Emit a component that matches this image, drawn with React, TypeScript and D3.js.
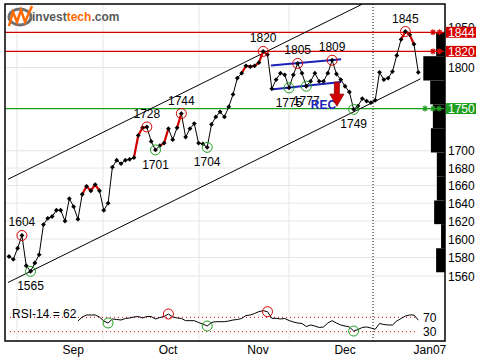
import React from 'react';
import * as d3 from 'd3';

// ---- data ----
const closes = [
  1581, 1578, 1590, 1604, 1571, 1565, 1574, 1583, 1616, 1623,
  1625, 1632, 1632, 1620, 1645, 1636, 1622, 1650, 1659, 1654,
  1661, 1654, 1632, 1640, 1681, 1689, 1685, 1689, 1690, 1692,
  1718, 1727, 1728, 1711, 1701, 1706, 1709, 1726, 1713, 1727,
  1744, 1716, 1726, 1732, 1709, 1708, 1704, 1731, 1740, 1746,
  1740, 1752, 1767, 1787, 1793, 1802, 1801, 1802, 1806, 1820,
  1816, 1774, 1785, 1793, 1791, 1775, 1791, 1805, 1793, 1777,
  1783, 1793, 1783, 1783, 1793, 1809, 1792, 1785, 1777, 1770,
  1749, 1753, 1762, 1759, 1757, 1760, 1794, 1785, 1787, 1795,
  1815, 1835, 1845, 1841, 1829, 1794,
];
const redSegments = [[17, 21], [29, 32], [35, 37], [39, 40], [54, 60], [91, 94]];
const topPoints = [3, 32, 40, 59, 67, 75, 92];
const bottomPoints = [5, 34, 46, 65, 69, 80];

const rsiStart = 16;
const rsiValues = [
  59.7, 70.8, 76.4, 76.4, 76.4, 70.8, 59.7, 54.2, 65.3, 63.9,
  62.5, 66.7, 68.1, 70.8, 72.2, 68.1, 72.2, 72.2, 65.3, 69.4,
  72.2, 79.2, 70.8, 68.1, 66.7, 60.6, 60.6, 60.6, 55.6, 51.4,
  45.8, 55.6, 57.8, 57.8, 57.8, 59.7, 62.5, 63.9, 66.7, 75,
  76.4, 80.6, 85.6, 88.3, 85.6, 67.2, 67.2, 65.3, 66.7, 61.1,
  56.9, 54.2, 52.8, 44.4, 48.6, 45.8, 41.7, 43.1, 54.2, 60.6,
  54.2, 48.6, 45.8, 43.1, 31.9, 36.1, 41.7, 43.1, 40.3, 36.7,
  52.8, 50, 48.6, 48.6, 59.7, 66.7, 73.6, 76.4, 76.4, 62,
];
const rsiRedCircles = [37, 60];
const rsiGreenCircles = [23, 46, 80];

const yTicks = [1560, 1580, 1600, 1620, 1640, 1660, 1680, 1700, 1800, 1850];
const gridTicks = [1560, 1580, 1600, 1620, 1640, 1660, 1680, 1700, 1800];
const resistanceLevels = [1844, 1820];
const supportLevels = [1750];

const monthBoundaries = [1.85, 21.8, 44.1, 65];
const yearBoundary = 84.5;
const monthLabels = ['Sep', 'Oct', 'Nov', 'Dec', 'Jan07'];
const monthLabelPos = [14.9, 36.9, 57.8, 78, 97.7];

const upperChannel = [[-0.25, 1667], [82, 1880]];
const lowerChannel = [[-0.25, 1553], [95.5, 1786]];
const rectTop = [[60.8, 1802.5], [77.1, 1810.2]];
const rectBottom = [[60.8, 1773], [77.1, 1782.2]];
const sellSignal = [76.1, 1782];

const volumeBinEdges = [1844, 1814, 1784, 1755, 1726.5, 1698, 1670.5, 1643, 1616.5, 1590, 1564];
const volumeAtPrice = [9, 22, 15, 12.3, 14.3, 8.3, 8.3, 11, 4, 9];

const FONT = '"Liberation Sans", Arial, sans-serif';

export default function App() {
  const W = 480, H = 360;
  const L = 5, T = 4, R = 445, B = 341;
  const x = d3.scaleLinear().domain([0, 95]).range([9, 418.3]);
  const y = d3.scaleLog().domain([1560, 1844]).range([276, 32.3]);
  const ry = d3.scaleLinear().domain([30, 70]).range([331.7, 317.3]);
  const vx = d3.scaleLinear().domain([0, 22]).range([0, 21.7]);

  const line = d3.line<number>().x((_, i) => x(i)).y((d) => y(d));
  const pricePath = line(closes) || '';
  const rsiLine = d3.line<number>().x((_, i) => x(i + rsiStart)).y((d) => ry(d));
  const rsiPath = rsiLine(rsiValues) || '';

  const red = '#d40000';
  const green = '#1e9e1e';
  const blue = '#1a22b8';

  const segLine = (pts: number[][]) => {
    const [a, b] = pts;
    return { x1: x(a[0]), y1: y(a[1]), x2: x(b[0]), y2: y(b[1]) };
  };

  const star = (cx: number, cy: number, r = 3) =>
    `M${cx - r},${cy}L${cx + r},${cy}M${cx},${cy - r}L${cx},${cy + r}` +
    `M${cx - r * 0.7},${cy - r * 0.7}L${cx + r * 0.7},${cy + r * 0.7}` +
    `M${cx - r * 0.7},${cy + r * 0.7}L${cx + r * 0.7},${cy - r * 0.7}`;

  const sx = x(sellSignal[0]);
  const sy = y(sellSignal[1]);

  return (
    <div style={{ position: 'fixed', left: 0, top: 0 }}>
      <svg width={W} height={H} style={{ display: 'block', background: '#fff', fontFamily: FONT }}>
        <rect x={0} y={0} width={W} height={H} fill="#fff" />
        {/* grid */}
        {gridTicks.map((t) => (
          <line key={'g' + t} x1={L} x2={R} y1={y(t)} y2={y(t)} stroke="#e6e6e6" />
        ))}
        {monthBoundaries.map((m) => (
          <line key={'m' + m} x1={x(m)} x2={x(m)} y1={T} y2={B} stroke="#e6e6e6" />
        ))}
        <line x1={x(yearBoundary)} x2={x(yearBoundary)} y1={T} y2={B} stroke="#000" strokeDasharray="1,2" />

        {/* volume at price */}
        {volumeAtPrice.map((v, i) => {
          const y0 = y(volumeBinEdges[i]);
          const y1 = y(volumeBinEdges[i + 1]);
          return <rect key={'v' + i} x={R - vx(v)} y={y0} width={vx(v)} height={y1 - y0} fill="#000" />;
        })}

        {/* horizontal levels */}
        {resistanceLevels.map((lv) => (
          <g key={'r' + lv}>
            <line x1={L} x2={R} y1={y(lv)} y2={y(lv)} stroke={red} strokeWidth={1.2} />
            <path d={star(433, y(lv)) + star(439.5, y(lv))} stroke={red} strokeWidth={1.2} />
          </g>
        ))}
        {supportLevels.map((lv) => (
          <g key={'s' + lv}>
            <line x1={L} x2={R} y1={y(lv)} y2={y(lv)} stroke={green} strokeWidth={1.2} />
            <path d={star(425, y(lv)) + star(433, y(lv)) + star(439, y(lv))} stroke={green} strokeWidth={1.2} />
          </g>
        ))}

        {/* channels */}
        <line {...segLine(upperChannel)} stroke="#000" strokeWidth={1} />
        <line {...segLine(lowerChannel)} stroke="#000" strokeWidth={1} />
        <line {...segLine(rectTop)} stroke={blue} strokeWidth={2} />
        <line {...segLine(rectBottom)} stroke={blue} strokeWidth={2} />

        {/* price */}
        <path d={pricePath} fill="none" stroke="#000" strokeWidth={1} />
        {redSegments.map(([a, b]) => (
          <path
            key={'rs' + a}
            d={line.x((_, i) => x(i + a))(closes.slice(a, b + 1)) || ''}
            fill="none"
            stroke={red}
            strokeWidth={2.2}
          />
        ))}
        {closes.map((c, i) => {
          const cx = x(i), cy = y(c), s = 2.4;
          return <path key={'d' + i} d={`M${cx},${cy - s}L${cx + s},${cy}L${cx},${cy + s}L${cx - s},${cy}Z`} fill="#000" />;
        })}
        {topPoints.map((i) => (
          <g key={'tp' + i}>
            <circle cx={x(i)} cy={y(closes[i])} r={5} fill="none" stroke={red} strokeWidth={1} />
            <text x={x(i)} y={y(closes[i]) - 9} fontSize={12} textAnchor="middle" fill="#000">{closes[i]}</text>
          </g>
        ))}
        {bottomPoints.map((i) => (
          <g key={'bp' + i}>
            <circle cx={x(i)} cy={y(closes[i])} r={5} fill="none" stroke={green} strokeWidth={1} />
            <text x={x(i)} y={y(closes[i]) + 19} fontSize={12} textAnchor="middle" fill="#000">{closes[i]}</text>
          </g>
        ))}

        {/* sell signal */}
        <text x={sx - 26} y={sy + 27} fontSize={12} fontWeight="bold" fill={blue}>REC</text>
        <path
          d={`M${sx - 2.5},${sy}L${sx + 2.5},${sy}L${sx + 2.5},${sy + 12}L${sx + 7},${sy + 12}L${sx},${sy + 24}L${sx - 7},${sy + 12}L${sx - 2.5},${sy + 12}Z`}
          fill="#d00000"
          stroke="#8a0000"
          strokeWidth={0.8}
        />

        {/* RSI */}
        <line x1={10} x2={416} y1={ry(70)} y2={ry(70)} stroke={red} strokeDasharray="1,3" />
        <line x1={10} x2={416} y1={ry(30)} y2={ry(30)} stroke={red} strokeDasharray="1,3" />
        <path d={rsiPath} fill="none" stroke="#000" strokeWidth={1} />
        {rsiRedCircles.map((i) => (
          <circle key={'rr' + i} cx={x(i)} cy={ry(rsiValues[i - rsiStart])} r={5} fill="none" stroke={red} />
        ))}
        {rsiGreenCircles.map((i) => (
          <circle key={'rg' + i} cx={x(i)} cy={ry(rsiValues[i - rsiStart])} r={5} fill="none" stroke={green} />
        ))}
        <text x={12} y={318} fontSize={12} fill="#000">RSI-14 = {rsiValues[rsiValues.length - 1]}</text>
        <text x={423} y={ry(70) + 4.5} fontSize={12} fill="#000">70</text>
        <text x={423} y={ry(30) + 4.5} fontSize={12} fill="#000">30</text>

        {/* right axis */}
        {yTicks.map((t) => (
          <text key={'t' + t} x={448} y={y(t) + 4.5} fontSize={12} fill="#000">{t}</text>
        ))}
        {resistanceLevels.map((lv) => (
          <g key={'rb' + lv}>
            <rect x={446} y={y(lv) - 5.5} width={30} height={11} fill={red} />
            <text x={448} y={y(lv) + 4.5} fontSize={12} fill="#fff">{lv}</text>
          </g>
        ))}
        {supportLevels.map((lv) => (
          <g key={'sb' + lv}>
            <rect x={446} y={y(lv) - 5.5} width={30} height={11} fill={green} />
            <text x={448} y={y(lv) + 4.5} fontSize={12} fill="#fff">{lv}</text>
          </g>
        ))}

        {/* month labels */}
        {monthLabels.map((m, i) => (
          <text key={m} x={x(monthLabelPos[i])} y={354} fontSize={12} textAnchor="middle" fill="#000">{m}</text>
        ))}

        {/* frame */}
        <rect x={L} y={T} width={R - L} height={B - T} fill="none" stroke="#000" strokeWidth={1.5} />

        {/* logo */}
        <ellipse cx={20} cy={17} rx={11} ry={8} fill="none" stroke="#707070" strokeWidth={3} />
        <polyline points="9,26 13,12 17,22 21,10 25,22 32,6" fill="none" stroke="#ff6a00" strokeWidth={2.5} />
        <text x={32} y={21} fontSize={12} fontWeight="bold">
          <tspan fill="#5a5a5a">invest</tspan>
          <tspan fill="#ff6a00">tech</tspan>
          <tspan fill="#5a5a5a">.com</tspan>
        </text>
      </svg>
    </div>
  );
}
